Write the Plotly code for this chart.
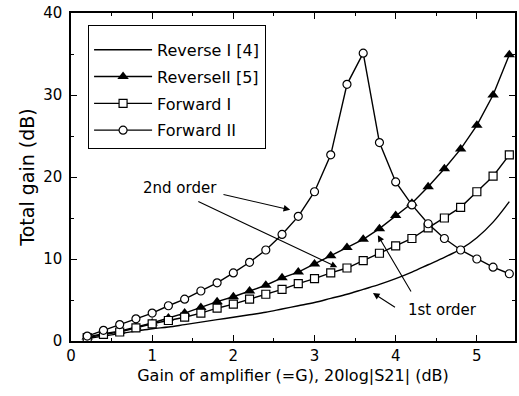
import plotly.graph_objects as go

gain_x = [0.2, 0.4, 0.6, 0.8, 1.0, 1.2, 1.4, 1.6, 1.8, 2.0, 2.2, 2.4, 2.6, 2.8,
          3.0, 3.2, 3.4, 3.6, 3.8, 4.0, 4.2, 4.4, 4.6, 4.8, 5.0, 5.2, 5.4]

reverse_1 = [0.3, 0.6, 0.9, 1.2, 1.5, 1.7, 2.0, 2.3, 2.6, 2.9, 3.2, 3.5, 3.9, 4.3,
             4.7, 5.2, 5.7, 6.3, 6.9, 7.6, 8.4, 9.3, 10.2, 11.2, 12.6, 14.5, 17.0]
reverse_2 = [0.5, 0.9, 1.2, 1.7, 2.2, 2.8, 3.4, 4.1, 4.8, 5.4, 6.1, 6.8, 7.7, 8.4,
             9.4, 10.4, 11.4, 12.4, 13.7, 15.3, 16.8, 18.8, 21.0, 23.4, 26.3, 30.0, 34.9]
forward_1 = [0.4, 0.8, 1.1, 1.6, 2.1, 2.5, 2.9, 3.4, 4.0, 4.5, 5.1, 5.7, 6.3, 7.0,
             7.6, 8.3, 8.9, 9.8, 10.7, 11.6, 12.5, 13.8, 15.0, 16.3, 18.2, 20.1, 22.7]
forward_2 = [0.6, 1.3, 2.0, 2.7, 3.4, 4.3, 5.1, 6.1, 7.1, 8.3, 9.6, 11.1, 13.0, 15.2,
             18.2, 22.7, 31.3, 35.1, 24.2, 19.4, 16.6, 14.3, 12.5, 11.1, 10.0, 9.0, 8.2]

series_names = ["Reverse I [4]", "ReverseII [5]", "Forward I", "Forward II"]

FONT = "DejaVu Sans, Liberation Sans, Arial, sans-serif"

fig = go.Figure()
fig.add_trace(go.Scatter(x=gain_x, y=reverse_1, mode="lines", name=series_names[0],
                         line=dict(color="black", width=1.4, shape="spline"),
                         legendgroup="a"))
fig.add_trace(go.Scatter(x=gain_x, y=reverse_2, mode="lines+markers", name=series_names[1],
                         line=dict(color="black", width=1.4),
                         marker=dict(symbol="triangle-up", size=10, color="black"),
                         legendgroup="b"))
fig.add_trace(go.Scatter(x=gain_x, y=forward_1, mode="lines+markers", name=series_names[2],
                         line=dict(color="black", width=1.4),
                         marker=dict(symbol="square", size=8, color="white",
                                     line=dict(color="black", width=1.2)),
                         legendgroup="c"))
fig.add_trace(go.Scatter(x=gain_x, y=forward_2, mode="lines+markers", name=series_names[3],
                         line=dict(color="black", width=1.4),
                         marker=dict(symbol="circle", size=8, color="white",
                                     line=dict(color="black", width=1.2)),
                         legendgroup="d"))

arrow_style = dict(xref="x", yref="y", axref="x", ayref="y", showarrow=True,
                   arrowhead=2, arrowsize=1.2, arrowwidth=1.1, arrowcolor="black", text="")
arrows = [
    ((2.70, 16.0), (1.86, 17.9)),
    ((3.28, 9.0), (1.55, 17.1)),
    ((3.78, 12.9), (4.20, 5.85)),
    ((3.72, 5.85), (4.01, 4.0)),
]
for (hx, hy), (tx, ty) in arrows:
    fig.add_annotation(x=hx, y=hy, ax=tx, ay=ty, **arrow_style)

fig.add_annotation(x=1.34, y=18.7, xref="x", yref="y", text="2nd order", showarrow=False,
                   font=dict(family=FONT, size=15, color="black"))
fig.add_annotation(x=4.58, y=3.8, xref="x", yref="y", text="1st order", showarrow=False,
                   font=dict(family=FONT, size=15, color="black"))

axis_common = dict(showline=True, linecolor="black", linewidth=1.5, mirror="ticks",
                   ticks="inside", ticklen=6, tickwidth=1.2, tickcolor="black",
                   showgrid=False, zeroline=False, automargin=False,
                   tickfont=dict(family=FONT, size=15, color="black"))

fig.update_xaxes(range=[0, 5.47], tickvals=[0, 1, 2, 3, 4, 5],
                 minor=dict(dtick=0.5, ticks="inside", ticklen=3, tickcolor="black"),
                 title=dict(text="Gain of amplifier (=G), 20log|S21| (dB)",
                            font=dict(family=FONT, size=16, color="black"), standoff=6),
                 **axis_common)
fig.update_yaxes(range=[0, 40], tickvals=[0, 10, 20, 30, 40],
                 minor=dict(dtick=5, ticks="inside", ticklen=3, tickcolor="black"),
                 title=dict(text="Total gain (dB)",
                            font=dict(family=FONT, size=19, color="black"), standoff=4),
                 ticklabelstandoff=4,
                 **axis_common)

fig.update_layout(
    width=519, height=396,
    margin=dict(l=71, r=4, t=13, b=55),
    plot_bgcolor="white", paper_bgcolor="white",
    showlegend=True,
    legend=dict(x=0.038, y=0.963, xanchor="left", yanchor="top",
                bgcolor="white", bordercolor="black", borderwidth=1.2,
                font=dict(family=FONT, size=16, color="black"),
                title=dict(text=" ", font=dict(family=FONT, size=5)),
                tracegroupgap=3, itemwidth=58),
)

fig.write_html("out.html", config={"displayModeBar": False},
               post_script="document.body.style.margin='0';")
